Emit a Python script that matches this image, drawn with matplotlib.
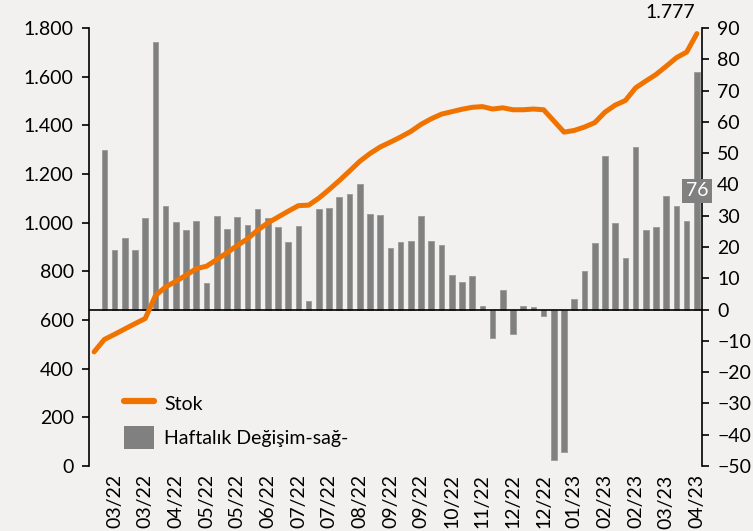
import matplotlib.pyplot as plt
import numpy as np
from matplotlib.ticker import FuncFormatter, MultipleLocator
from matplotlib.patches import Patch
from matplotlib.lines import Line2D

plt.rcParams['font.family'] = ['Lato', 'DejaVu Sans']

# weekly stock (left axis) and weekly change (right axis)
stock = [469, 520, 541, 563, 585, 606, 700, 736, 759, 784,
         811, 821, 848, 876, 906, 933, 969, 999, 1023, 1047,
         1070, 1072, 1101, 1136, 1173, 1212, 1252, 1284, 1311, 1331,
         1352, 1375, 1404, 1427, 1446, 1456, 1466, 1474, 1477, 1467,
         1472, 1464, 1464, 1467, 1464, 1418, 1372, 1379, 1393, 1411,
         1454, 1483, 1502, 1554, 1582, 1609, 1643, 1678, 1701, 1777]
weekly_change = [np.nan, 51, 19, 23, 19.2, 29.3, 85.4, 33.1, 28.1, 25.5,
                 28.4, 8.6, 29.9, 25.9, 29.5, 26.9, 32.0, 29.2, 26.3, 21.7,
                 26.7, 2.7, 32.2, 32.4, 36.0, 36.8, 40.2, 30.6, 30.3, 19.7,
                 21.6, 22.0, 30.0, 21.8, 20.5, 11.0, 8.7, 10.6, 1.1, -9.1,
                 6.2, -7.7, 1.1, 0.7, -2.1, -48.0, -45.4, 3.5, 12.3, 21.2,
                 49.1, 27.7, 16.5, 52.1, 25.4, 26.3, 36.4, 33.1, 28.3, 76]
tick_labels = ["03/22", "03/22", "04/22", "05/22", "05/22", "06/22", "07/22",
               "07/22", "08/22", "09/22", "09/22", "10/22", "11/22", "12/22",
               "12/22", "01/23", "02/23", "02/23", "03/23", "04/23"]

bg = "#f2f1ef"
orange = "#f07300"
gray = "#808080"

x = np.arange(len(stock))

fig = plt.figure(figsize=(7.53, 5.31), dpi=100, facecolor=bg)
ax1 = fig.add_axes([89 / 753, 1 - 466 / 531, 613 / 753, 438 / 531])
ax2 = ax1.twinx()
ax1.set_zorder(ax2.get_zorder() + 1)
ax1.patch.set_visible(False)
ax2.set_facecolor(bg)

# bars on the right axis
ax2.bar(x, weekly_change, width=0.55, color=gray, edgecolor="#999999", linewidth=0.6)
ax2.axhline(0, color="black", linewidth=1.2, zorder=3)
ax2.set_ylim(-50, 90)
ax2.yaxis.set_major_locator(MultipleLocator(10))

# stock line on the left axis
ax1.plot(x, stock, color=orange, linewidth=3.6, solid_capstyle="round", solid_joinstyle="round")
ax1.set_ylim(0, 1800)
ax1.yaxis.set_major_locator(MultipleLocator(200))
ax1.yaxis.set_major_formatter(FuncFormatter(lambda v, p: f"{v:,.0f}".replace(",", ".")))
ax1.set_xlim(-0.5, len(stock) - 0.5)

ax1.set_xticks(x[2::3])
ax1.set_xticklabels(tick_labels, rotation=90)
ax1.tick_params(axis="x", length=0, pad=6, labelsize=14)
ax1.tick_params(axis="y", length=5, width=1.2, labelsize=14, pad=6)
ax2.tick_params(axis="y", length=5, width=1.2, labelsize=14, pad=6)

for ax in (ax1, ax2):
    for s in ("top", "bottom"):
        ax.spines[s].set_visible(False)
ax1.spines["right"].set_visible(False)
ax2.spines["left"].set_visible(False)
ax1.spines["left"].set_linewidth(1.2)
ax2.spines["right"].set_linewidth(1.2)

# labels for the last values
ax1.annotate(f"{stock[-1]:,}".replace(",", "."), (x[-1], stock[-1]),
             xytext=(-19, 15), textcoords="offset points",
             ha="center", va="center", fontsize=14)
ax2.annotate(f"{weekly_change[-1]:.0f}", (x[-1], weekly_change[-1] / 2),
             ha="center", va="center", fontsize=14, color="white",
             bbox=dict(boxstyle="square,pad=0.18", fc=gray, ec="none"),
             zorder=10, annotation_clip=False)

handles = [Line2D([], [], color=orange, linewidth=4.5, solid_capstyle="round"),
           Patch(facecolor=gray, edgecolor="none")]
ax1.legend(handles, ["Stok", "Haftalık Değişim-sağ-"], loc="upper left",
           bbox_to_anchor=(106 / 753, 1 - 375 / 531), bbox_transform=fig.transFigure,
           frameon=False, fontsize=14, handlelength=1.55, handleheight=1.45,
           labelspacing=0.55, handletextpad=0.55)

fig.savefig("out.png", dpi=100, facecolor=bg)
